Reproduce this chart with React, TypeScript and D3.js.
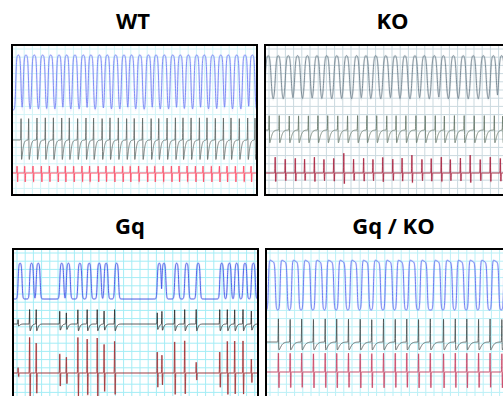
import * as d3 from 'd3';

// panel titles
const titles = ['WT', 'KO', 'Gq', 'Gq / KO'];

// beat times (ms across a 1000 ms window)
const wtBeats = [26, 57, 91, 125, 158, 192, 223, 257, 291, 322, 357, 389, 423, 457, 488, 522, 557, 588, 622, 656, 687, 720, 754, 785, 819, 852, 883, 917, 951, 981];
const koBeats = [13, 54, 95, 133, 173, 212, 252, 293, 333, 374, 412, 452, 493, 531, 571, 612, 650, 691, 728, 769, 809, 850, 891, 932, 966, 1006];
const gqBeats = [29, 76, 103, 199, 226, 273, 311, 352, 380, 423, 597, 616, 668, 709, 756, 852, 883, 913, 947, 981];
const gqKoBeats = [16, 64, 111, 159, 207, 254, 302, 350, 397, 445, 493, 540, 588, 636, 690, 738, 785, 833, 880, 928, 976];

// relative spike amplitudes where they vary from beat to beat
const koRedAmp = [0.8, 0.7, 0.75, 0.7, 0.8, 0.7, 0.75, 1, 0.7, 0.75, 0.7, 0.8, 0.7, 0.75, 0.9, 0.7, 0.75, 0.8, 0.7, 0.75, 0.9, 0.7, 0.8, 0.75, 0.85, 0.8];
const gqEcgAmp = [0.3, 1, 1, 0.9, 0.8, 1, 1, 1, 0.9, 1, 0.8, 0.9, 1, 1, 1, 1, 1, 1, 1, 0.9];
const gqRedAmp = [0.15, 1, 0.85, 0.55, 0.45, 1, 0.95, 1, 0.8, 0.9, 0.6, 0.5, 0.9, 0.9, 0.3, 0.6, 0.9, 0.9, 0.9, 0.4];

const PW = 245;
const PH = 150;
const STEP = 0.1;

const sig = (z: number) => 1 / (1 + Math.exp(-z));
const g = (z: number) => Math.exp(-z * z);

type Panel = {
  title: string;
  tx: number;
  ty: number;
  x0: number;
  y0: number;
  grid: string;
  beats: number[];
  blue: { top: number; bottom: number; color: string; hl: number; hr: number; k: number; droop: number; shift: number };
  ecg: { base: number; up: number; down: number; color: string; off: number; tau: number; amp?: number[] };
  red: { base: number; up: number; down: number; color: string; off: number; amp?: number[] };
};

const panels: Panel[] = [
  {
    title: titles[0], tx: 133, ty: 29, x0: 12, y0: 45, grid: '#d2f3f7', beats: wtBeats,
    blue: { top: 55, bottom: 110, color: '#7482f4', hl: 2.6, hr: 2.6, k: 0.4, droop: 0, shift: 0 },
    ecg: { base: 140, up: 117, down: 160, color: '#5a6361', off: 2.7, tau: 0.8 },
    red: { base: 173, up: 166, down: 182, color: '#ff4560', off: -1.3 },
  },
  {
    title: titles[1], tx: 392.5, ty: 29, x0: 265, y0: 45, grid: '#cbd9df', beats: koBeats,
    blue: { top: 55, bottom: 100, color: '#6f808c', hl: 2.9, hr: 2.9, k: 0.6, droop: 0, shift: 0 },
    ecg: { base: 130, up: 115, down: 143, color: '#627464', off: 1, tau: 1.1 },
    red: { base: 173, up: 153, down: 184, color: '#a8203e', off: 7, amp: koRedAmp },
  },
  {
    title: titles[2], tx: 130, ty: 234, x0: 13, y0: 249, grid: '#a4edf6', beats: gqBeats,
    blue: { top: 263, bottom: 299, color: '#4255e6', hl: 2, hr: 2, k: 0.35, droop: 0, shift: 0 },
    ecg: { base: 324, up: 309, down: 331, color: '#262626', off: -2, tau: 0.8, amp: gqEcgAmp },
    red: { base: 373, up: 337, down: 397, color: '#a03034', off: -2, amp: gqRedAmp },
  },
  {
    title: titles[3], tx: 393.5, ty: 234, x0: 266, y0: 249, grid: '#bbf0f7', beats: gqKoBeats,
    blue: { top: 259, bottom: 310, color: '#6070f2', hl: 3.5, hr: 3.5, k: 0.35, droop: 0.08, shift: 2 },
    ecg: { base: 342, up: 318, down: 350, color: '#454d4d', off: 8.5, tau: 1.4 },
    red: { base: 372, up: 353, down: 388, color: '#c84464', off: 8.5 },
  },
];

const line = d3.line<[number, number]>().x((d) => d[0]).y((d) => d[1]);

function buildPaths(p: Panel) {
  const x = d3.scaleLinear().domain([0, 1000]).range([p.x0, p.x0 + PW]);
  const bx = p.beats.map((b) => x(b));
  const yB = d3.scaleLinear().domain([0, 1]).range([p.blue.bottom, p.blue.top]);
  const yE = d3.scaleLinear().domain([-1, 0, 1]).range([p.ecg.down, p.ecg.base, p.ecg.up]);
  const yR = d3.scaleLinear().domain([-1, 0, 1]).range([p.red.down, p.red.base, p.red.up]);
  const px = d3.range(p.x0, p.x0 + PW + STEP, STEP);

  const blue: [number, number][] = px.map((X) => {
    let v = 0;
    const { hl, hr, k, droop, shift } = p.blue;
    bx.forEach((c) => {
      const d = X - (c + shift);
      const f = sig((d + hl) / k) * sig((hr - d) / k) * (1 - droop * Math.min(1, Math.max(0, (d + hl) / (hl + hr))));
      v = Math.max(v, f);
    });
    return [X, yB(v)];
  });

  const ecg: [number, number][] = px.map((X) => {
    let v = 0;
    bx.forEach((c, i) => {
      const a = p.ecg.amp ? p.ecg.amp[i] : 1;
      const d = X - (c + p.ecg.off);
      const d0 = 0.45;
      const dip = d < d0 ? g((d - d0) / 0.25) : (1 + (d - d0) / p.ecg.tau) * Math.exp(-(d - d0) / p.ecg.tau);
      v += a * (g(d / 0.28) - dip);
    });
    return [X, yE(Math.max(-1, Math.min(1, v)))];
  });

  const red: [number, number][] = px.map((X) => {
    let v = 0;
    bx.forEach((c, i) => {
      const a = p.red.amp ? p.red.amp[i] : 1;
      const d = X - (c + p.red.off);
      v += a * (g(d / 0.25) - g((d - 0.55) / 0.25));
    });
    return [X, yR(Math.max(-1, Math.min(1, v)))];
  });

  return { blue: line(blue)!, ecg: line(ecg)!, red: line(red)! };
}

const GRID = 8.2;

export default function App() {
  return (
    <div style={{ position: 'absolute', left: 0, top: 0 }}>
      <svg width={503} height={396} style={{ display: 'block', background: '#fff' }}>
        <defs>
          {panels.map((p, i) => (
            <clipPath id={`clip${i}`} key={i}>
              <rect x={p.x0} y={p.y0} width={PW} height={PH} />
            </clipPath>
          ))}
        </defs>
        {panels.map((p, i) => {
          const paths = buildPaths(p);
          const vx = d3.range(p.x0 + 4, p.x0 + PW, GRID);
          const hy = d3.range(p.y0 + 4, p.y0 + PH, GRID);
          return (
            <g key={i}>
              <text
                x={p.tx}
                y={p.ty}
                textAnchor="middle"
                fontFamily="'Open Sans', sans-serif"
                fontWeight={700}
                fontSize={22}
                fill="#000"
              >
                {p.title}
              </text>
              <g clipPath={`url(#clip${i})`}>
                <rect x={p.x0} y={p.y0} width={PW} height={PH} fill="#fff" />
                {vx.map((gx) => (
                  <line key={`v${gx}`} x1={gx} x2={gx} y1={p.y0} y2={p.y0 + PH} stroke={p.grid} strokeWidth={1} />
                ))}
                {hy.map((gy) => (
                  <line key={`h${gy}`} x1={p.x0} x2={p.x0 + PW} y1={gy} y2={gy} stroke={p.grid} strokeWidth={1} />
                ))}
                <path d={paths.blue} fill="none" stroke={p.blue.color} strokeOpacity={0.12} strokeWidth={2.2} />
                <path d={paths.blue} fill="none" stroke={p.blue.color} strokeWidth={0.9} />
                <path d={paths.ecg} fill="none" stroke={p.ecg.color} strokeWidth={0.8} />
                <path d={paths.red} fill="none" stroke={p.red.color} strokeOpacity={0.15} strokeWidth={2} />
                <path d={paths.red} fill="none" stroke={p.red.color} strokeWidth={0.8} />
              </g>
              <rect x={p.x0} y={p.y0} width={PW} height={PH} fill="none" stroke="#000" strokeWidth={2} />
            </g>
          );
        })}
      </svg>
    </div>
  );
}
